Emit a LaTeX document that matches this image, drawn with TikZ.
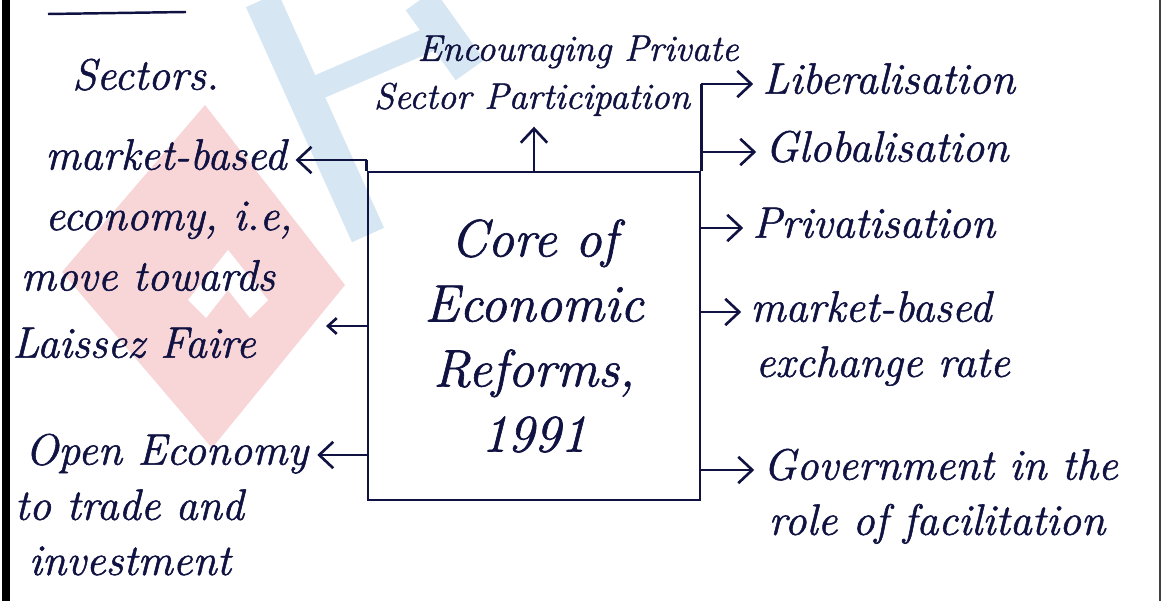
\documentclass[tikz,border=0pt]{standalone}
\usepackage{fontspec}
\setmainfont{Latin Modern Roman}[ItalicFeatures={FakeBold=1.2}]
\usetikzlibrary{arrows.meta,positioning}

\definecolor{ink}{RGB}{16,18,66}
\definecolor{wmred}{RGB}{248,214,216}
\definecolor{wmblue}{RGB}{214,231,243}

\tikzset{
  hand/.style={font=\fontsize{25}{30}\selectfont\itshape, text=ink, inner sep=0pt,
    text height=17pt, text depth=6pt},
  smallhand/.style={hand, font=\fontsize{21}{26}\selectfont\itshape,
    text height=15pt, text depth=5pt},
  corebox/.style={draw=ink, line width=1.6pt, align=center, inner sep=0pt,
    font=\fontsize{30}{37}\selectfont\itshape, text=ink,
    minimum width=6.64cm, minimum height=6.56cm},
  link/.style={->, draw=ink, line width=1.5pt, shorten >=5pt}
}

\begin{document}
\begin{tikzpicture}[x=0.02cm,y=-0.02cm,>={Straight Barb[length=8pt,width=15pt]},node distance=8pt]

\useasboundingbox (0,0) rectangle (1163,601);
\fill[white] (0,0) rectangle (1163,601);

% faint logo behind the notes
\fill[wmred] (205,105) -- (345,285) -- (212,448) -- (62,272) -- cycle;
\fill[white] (228,250) -- (268,300) -- (250,318) -- (228,290) -- (206,318) -- (188,300) -- cycle;
\draw[wmblue, line width=20pt] (262,0) -- (368,235);
\draw[wmblue, line width=20pt] (420,0) -- (470,70);
\draw[wmblue, line width=14pt] (300,95) -- (440,35);

% page edges
\draw[black, line width=5pt] (6,0) -- (6,601);
\draw[black!75, line width=1pt] (1160,0) -- (1160,601);
\draw[ink, line width=1.4pt] (48,14) -- (186,12);

% centre box
\node[corebox] (core) at (534,336) {Core of\\Economic\\Reforms,\\1991};

% top
\node[smallhand] (ep) at (578,52) {Encouraging Private};
\node[smallhand] (sp) at (532,100) {Sector Participation};

% left side
\node[hand, anchor=west] (sec) at (72,80) {Sectors.};
\node[hand, anchor=west] (mb) at (45,160) {market-based};
\node[hand, below=11pt of mb.south west, anchor=north west] (ec) {economy, i.e,};
\node[hand, below=11pt of ec.south west, anchor=north west, xshift=-14pt] (mt) {move towards};
\node[hand, anchor=west] (lf) at (12,348) {Laissez Faire};
\node[hand, anchor=west] (oe) at (25,455) {Open Economy};
\node[hand, below=of oe.south west, anchor=north west, xshift=-6pt] (tt) {to trade and};
\node[hand, below=of tt.south west, anchor=north west, xshift=8pt] (inv) {investment};
\coordinate (lfend) at (326,326);

% right side
\node[hand, anchor=west] (lib) at (762,84) {Liberalisation};
\node[hand, anchor=west] (glob) at (765,152) {Globalisation};
\node[hand, anchor=west] (priv) at (752,228) {Privatisation};
\node[hand, anchor=west] (mbr) at (750,312) {market-based};
\node[hand, below=of mbr.south west, anchor=north west, xshift=3pt] (exr) {exchange rate};
\node[hand, anchor=west] (gov) at (763,470) {Government in the};
\node[hand, below=of gov.south west, anchor=north west, xshift=3pt] (fac) {role of facilitation};

% connectors
\draw[ink, line width=1.6pt] (core.north west) -- (core.north west |- mb);
\draw[ink, line width=1.6pt] (core.north east) -- (core.north east |- lib);
\draw[link] (core.north) -- (core.north |- sp.south);
\draw[link] (core.north west |- mb) -- (mb);
\draw[link, shorten >=0pt, >={Straight Barb[length=5pt,width=9pt]}] (core.west |- lfend) -- (lfend);
\draw[link] (core.west |- oe) -- (oe);
\draw[link] (core.north east |- lib) -- (lib);
\draw[link] (core.north east |- glob) -- (glob);
\draw[link] (core.east |- priv) -- (priv);
\draw[link] (core.east |- mbr) -- (mbr);
\draw[link] (core.east |- gov) -- (gov);

\end{tikzpicture}
\end{document}
